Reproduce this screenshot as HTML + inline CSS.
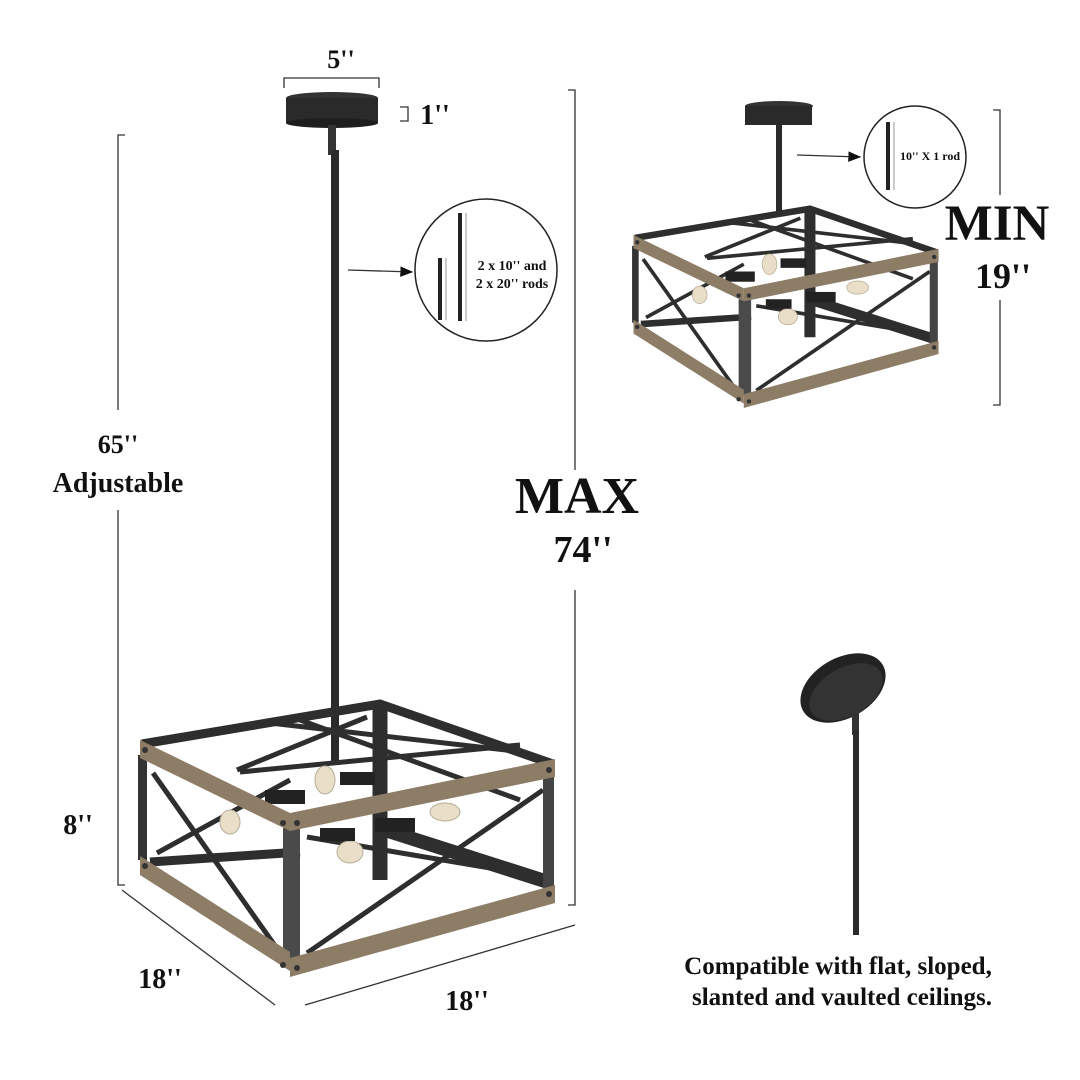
<!DOCTYPE html>
<html><head><meta charset="utf-8"><style>
html,body{margin:0;padding:0;background:#fff;width:1080px;height:1080px;overflow:hidden}
text{font-family:"Liberation Serif",serif;font-weight:bold;fill:#111}
</style></head><body>
<svg width="1080" height="1080" viewBox="0 0 1080 1080" xmlns="http://www.w3.org/2000/svg">
<defs>
<marker id="ar" markerWidth="10" markerHeight="10" refX="9" refY="5" orient="auto"><path d="M0,1 L10,5 L0,9 z" fill="#111"/></marker>
<g id="fx">
  <g stroke="#2e2e2e" fill="none">
    <path d="M142,744 L380,704 L553,764" stroke-width="9"/>
    <path d="M380,704 V880" stroke-width="15"/>
    <path d="M150,862 L300,852" stroke-width="9"/>
    <path d="M385,830 L548,882" stroke-width="14"/>
    <path d="M237,770 L367,717 M270,723 L523,752 M240,772 L520,745 M300,720 L520,800" stroke-width="5"/>
    <path d="M153,773 L283,957 M157,853 L290,780" stroke-width="5"/>
    <path d="M307,953 L543,790 M307,837 L543,877" stroke-width="5"/>
  </g>
  <g fill="#e9dfc8" stroke="#b8ad98">
    <ellipse cx="325" cy="780" rx="10" ry="14"/><ellipse cx="445" cy="812" rx="15" ry="9"/>
    <ellipse cx="350" cy="852" rx="13" ry="11"/><ellipse cx="230" cy="822" rx="10" ry="12"/>
  </g>
  <g fill="#222"><rect x="265" y="790" width="40" height="14"/><rect x="375" y="818" width="40" height="14"/><rect x="340" y="772" width="35" height="13"/><rect x="320" y="828" width="35" height="13"/></g>
  <rect x="138" y="755" width="9" height="105" fill="#333"/>
  <rect x="283" y="828" width="17" height="132" fill="#4a4a4a"/>
  <rect x="543" y="775" width="11" height="114" fill="#444"/>
  <g fill="#8d7d66">
    <polygon points="140,740 290,813 290,831 140,758"/>
    <polygon points="290,813 555,759 555,777 290,831"/>
    <polygon points="140,856 290,952 290,971 140,875"/>
    <polygon points="290,958 555,885 555,903 290,977"/>
  </g>
  <g fill="#333"><circle cx="145" cy="750" r="3"/><circle cx="283" cy="823" r="3"/><circle cx="297" cy="823" r="3"/><circle cx="549" cy="770" r="3"/><circle cx="145" cy="866" r="3"/><circle cx="283" cy="965" r="3"/><circle cx="297" cy="968" r="3"/><circle cx="549" cy="894" r="3"/></g>
</g>
</defs>
<g stroke="#333" stroke-width="1.3" fill="none">
<path d="M284,88 V78 H379 V88"/>
<path d="M400,107 H408 V121 H400"/>
<path d="M125,135 H118 V410 M118,510 V885 H125"/>
<path d="M568,90 H575 V470 M575,590 V905 H568"/>
<path d="M122,890 L275,1005"/>
<path d="M305,1005 L575,925"/>
<path d="M993,110 H1000 V195 M1000,300 V405 H993"/>
<line x1="348" y1="270" x2="412" y2="272" marker-end="url(#ar)"/>
<line x1="797" y1="155" x2="860" y2="157" marker-end="url(#ar)"/>
</g>
<text x="341" y="68" font-size="26" text-anchor="middle">5''</text>
<text x="435" y="124" font-size="28" text-anchor="middle">1''</text>
<text x="118" y="453" font-size="26" text-anchor="middle">65''</text>
<text x="118" y="492" font-size="28" text-anchor="middle">Adjustable</text>
<text x="78" y="834" font-size="28" text-anchor="middle">8''</text>
<text x="577" y="513" font-size="52" text-anchor="middle">MAX</text>
<text x="583" y="562" font-size="38" text-anchor="middle">74''</text>
<text x="160" y="988" font-size="28" text-anchor="middle">18''</text>
<text x="467" y="1010" font-size="28" text-anchor="middle">18''</text>
<text x="997" y="240" font-size="51" text-anchor="middle">MIN</text>
<text x="1003" y="288" font-size="36" text-anchor="middle">19''</text>
<text x="838" y="974" font-size="25" text-anchor="middle">Compatible with flat, sloped,</text>
<text x="842" y="1005" font-size="25" text-anchor="middle">slanted and vaulted ceilings.</text>

<circle cx="486" cy="270" r="71" fill="#fff" stroke="#222" stroke-width="1.5"/>
<rect x="438" y="258" width="4" height="62" fill="#222"/>
<line x1="446" y1="258" x2="446" y2="320" stroke="#999" stroke-width="1"/>
<rect x="458" y="213" width="4" height="108" fill="#222"/>
<line x1="466" y1="213" x2="466" y2="321" stroke="#999" stroke-width="1"/>
<text x="512" y="270" font-size="14" text-anchor="middle">2 x 10'' and</text>
<text x="512" y="288" font-size="14" text-anchor="middle">2 x 20'' rods</text>
<circle cx="915" cy="157" r="51" fill="#fff" stroke="#222" stroke-width="1.5"/>
<rect x="886" y="122" width="4" height="68" fill="#222"/>
<line x1="894" y1="122" x2="894" y2="190" stroke="#999" stroke-width="1"/>
<text x="930" y="160" font-size="12" text-anchor="middle">10'' X 1 rod</text>

<ellipse cx="332" cy="98" rx="46" ry="6" fill="#333"/>
<rect x="286" y="98" width="92" height="25" fill="#2a2a2a"/>
<ellipse cx="332" cy="123" rx="46" ry="5" fill="#1e1e1e"/>
<rect x="328" y="125" width="8" height="30" fill="#333"/>
<rect x="331" y="150" width="8" height="615" fill="#2b2b2b"/>
<use href="#fx"/>

<ellipse cx="779" cy="106" rx="34" ry="5" fill="#333"/>
<rect x="745" y="106" width="67" height="19" fill="#2a2a2a"/>
<rect x="776" y="125" width="6" height="90" fill="#2b2b2b"/>
<g transform="translate(635,235) scale(0.735,0.73) translate(-142,-740)"><use href="#fx"/></g>

<ellipse cx="843" cy="688" rx="46" ry="30" transform="rotate(-30 843 688)" fill="#222"/>
<ellipse cx="846" cy="692" rx="40" ry="24" transform="rotate(-30 846 692)" fill="#333"/>
<rect x="852" y="695" width="7" height="40" fill="#333"/>
<rect x="853" y="730" width="6" height="205" fill="#2b2b2b"/>
</svg>
</body></html>
